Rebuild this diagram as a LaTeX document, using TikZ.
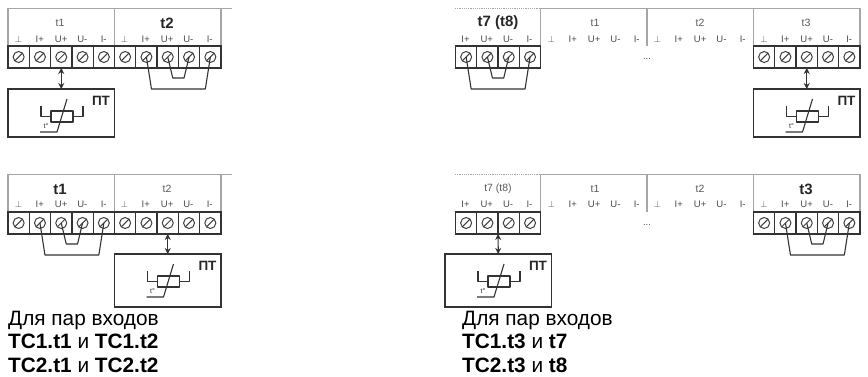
\documentclass[tikz,border=0pt]{standalone}
\usepackage{fontspec}
\setmainfont{Liberation Sans}
\usetikzlibrary{calc, arrows.meta}

\begin{document}
\begin{tikzpicture}[x=1pt, y=-1pt,
		frameline/.style={gray!70, line width=1.2pt},
		cell/.style={draw=black!80, line width=1.3pt, minimum width=21.3pt, minimum height=22pt, inner sep=0pt, outer sep=0pt},
		screw/.style={circle, draw=black!75, line width=1pt, minimum size=11pt, inner sep=0pt,
			path picture={\draw[black!75, line width=1pt] (path picture bounding box.south west) -- (path picture bounding box.north east);}},
		wire/.style={black!80, line width=1.1pt, line join=round},
		link/.style={{Stealth[length=6pt, width=6pt]}-{Stealth[length=6pt, width=6pt]}, black!80, line width=1.1pt},
		pin/.style={font=\fontsize{9.5}{10}\selectfont, text=black!70, inner sep=0pt},
		titleoff/.style={font=\fontsize{10.5}{11}\selectfont, text=black!65, inner sep=0pt},
		titleon/.style={font=\fontsize{15}{16}\bfseries\selectfont, text=black!85, inner sep=0pt},
		sensorbox/.style={draw=black!80, line width=1.3pt, minimum width=106.5pt, minimum height=48pt, inner sep=0pt, outer sep=0pt},
		sensorname/.style={font=\fontsize{13.5}{14}\bfseries\selectfont, text=black!85, inner sep=0pt},
		caption/.style={font=\fontsize{20.8}{23.5}\selectfont, align=left, anchor=north west, inner sep=0pt}]
	\useasboundingbox (0,0) rectangle (868,377);
	
	% Terminal strip: name, left x, top y, number of cells
	\def\strip#1#2#3#4{
		\foreach \i in {1,...,#4}{
			\node[cell] (#1c\i) at ({#2+(\i-0.5)*21.3},{#3+11}) {};
			\node[screw] (#1\i) at (#1c\i.center) {};
		}
	}
	% Row of pin labels: name, first x, y, texts
	\def\pins#1#2#3#4{
		\foreach \lab [count=\i] in {#4}{
			\node[pin] (#1p\i) at ({#2+(\i-1)*21.3},#3) {\lab};
		}
	}
	% Jumpers between the four terminals of one input
	\def\jumpers#1#2#3#4{
		\draw[wire] (#1.center) -- ++(5,32) -- ($(#4.center)+(-5,32)$) -- (#4.center);
		\draw[wire] (#2.center) -- ++(5,21) -- ($(#3.center)+(-5,21)$) -- (#3.center);
	}
	% Sensor box: name, left x, top y
	\def\sensor#1#2#3{
		\node[sensorbox, minimum height=#3pt] (#1) at ({#2+53.25},{\sensortop+#3/2}) {};
		\node[sensorname] (#1n) at ({#2+93},{\sensortop+12}) {ПТ};
		\begin{scope}[shift={(#2,\sensortop)}, wire]
			\draw (33,17) |- (43,27.5);
			\draw (75,17) |- (65,27.5);
			\draw (43,22) rectangle (65,33);
			\draw (59,10) -- (49,43) -- (32,43);
			\node[inner sep=0pt, font=\fontsize{7}{8}\selectfont] (#1t) at (38,37) {t°};
		\end{scope}
	}
	
	% Top left
	\draw[frameline] (8,68) -- (8,8.5) -- (232,8.5);
	\draw[frameline] (114.5,8.5) -- (114.5,46);
	\draw[frameline] (221,8.5) -- (221,46);
	\node[titleoff] (At1) at (60,23) {t1};
	\node[titleon] (At2) at (167,23) {t2};
	\pins{Aa}{18.5}{39}{$\perp$,I+,U+,U-,I-}
	\pins{Ab}{124.5}{39}{$\perp$,I+,U+,U-,I-}
	\strip{A}{8}{46}{10}
	\jumpers{A7}{A8}{A9}{A10}
	\def\sensortop{89}
	\sensor{Abox}{8}{48}
	\draw[link] (Ac3.south) -- (Abox.north);
	
	% Bottom left
	\draw[frameline] (8,233) -- (8,174.5) -- (232,174.5);
	\draw[frameline] (114.5,174.5) -- (114.5,212);
	\draw[frameline] (221,174.5) -- (221,212);
	\node[titleon] (Bt1) at (60,189) {t1};
	\node[titleoff] (Bt2) at (167,189) {t2};
	\pins{Ba}{18.5}{204}{$\perp$,I+,U+,U-,I-}
	\pins{Bb}{124.5}{204}{$\perp$,I+,U+,U-,I-}
	\strip{B}{8}{212}{10}
	\jumpers{B2}{B3}{B4}{B5}
	\def\sensortop{254}
	\sensor{Bbox}{114.5}{53}
	\draw[link] (Bc8.south) -- (Bbox.north);
	\node[caption] (Btext) at (8,310.5) {Для пар входов\\\textbf{ТС1.t1} и \textbf{ТС1.t2}\\\textbf{ТС2.t1} и \textbf{ТС2.t2}};
	
	% Top right
	\draw[frameline, densely dotted] (455,8.5) -- (540.5,8.5);
	\draw[frameline] (540.5,46) -- (540.5,8.5) -- (860,8.5) -- (860,46);
	\draw[frameline] (647,8.5) -- (647,46);
	\draw[frameline] (753.5,8.5) -- (753.5,68);
	\node[titleon] (Ct7) at (498,23) {t7 (t8)};
	\node[titleoff] (Ct1) at (595,23) {t1};
	\node[titleoff] (Ct2) at (700,23) {t2};
	\node[titleoff] (Ct3) at (806,23) {t3};
	\pins{Ca}{465.5}{39}{I+,U+,U-,I-}
	\pins{Cb}{551.5}{39}{$\perp$,I+,U+,U-,I-}
	\pins{Cc}{657.5}{39}{$\perp$,I+,U+,U-,I-}
	\pins{Cd}{764}{39}{$\perp$,I+,U+,U-,I-}
	\node[pin] (Cdots) at (647,59) {...};
	\strip{C}{455.5}{46}{4}
	\strip{E}{753.5}{46}{5}
	\jumpers{C1}{C2}{C3}{C4}
	\def\sensortop{89}
	\sensor{Cbox}{753.5}{48}
	\draw[link] (Ec3.south) -- (Cbox.north);
	
	% Bottom right
	\draw[frameline, densely dotted] (455,174.5) -- (540.5,174.5);
	\draw[frameline] (540.5,212) -- (540.5,174.5) -- (860,174.5) -- (860,212);
	\draw[frameline] (647,174.5) -- (647,212);
	\draw[frameline] (753.5,174.5) -- (753.5,233);
	\node[titleoff] (Dt7) at (498,189) {t7 (t8)};
	\node[titleoff] (Dt1) at (595,189) {t1};
	\node[titleoff] (Dt2) at (700,189) {t2};
	\node[titleon] (Dt3) at (806,189) {t3};
	\pins{Da}{465.5}{204}{I+,U+,U-,I-}
	\pins{Db}{551.5}{204}{$\perp$,I+,U+,U-,I-}
	\pins{Dc}{657.5}{204}{$\perp$,I+,U+,U-,I-}
	\pins{Dd}{764}{204}{$\perp$,I+,U+,U-,I-}
	\node[pin] (Ddots) at (647,225) {...};
	\strip{D}{455.5}{212}{4}
	\strip{F}{753.5}{212}{5}
	\jumpers{F2}{F3}{F4}{F5}
	\def\sensortop{254}
	\sensor{Dbox}{445}{53}
	\draw[link] (Dc2.south east) -- (Dbox.north);
	\node[caption] (Dtext) at (462,310.5) {Для пар входов\\\textbf{ТС1.t3} и \textbf{t7}\\\textbf{ТС2.t3} и \textbf{t8}};
\end{tikzpicture}
\end{document}
